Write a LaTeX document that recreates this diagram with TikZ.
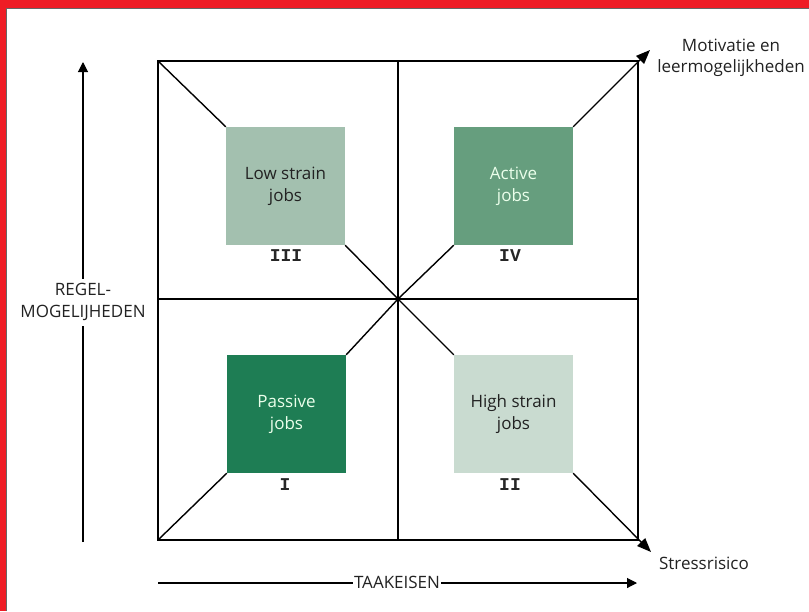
\documentclass[tikz,border=0pt]{standalone}
\usepackage{fontspec}
\setmainfont{Open Sans}
\newfontfamily\romfont{Liberation Mono}
\usetikzlibrary{arrows.meta}
\definecolor{bordred}{HTML}{EE1C25}
\definecolor{lowc}{HTML}{A3C0AF}
\definecolor{actc}{HTML}{669E7E}
\definecolor{pasc}{HTML}{1E7D54}
\definecolor{highc}{HTML}{C9DBD0}
\definecolor{txtdark}{HTML}{222222}
\begin{document}
\begin{tikzpicture}[x=1pt,y=-1pt,
  frame/.style={line width=1.4pt,black},
  jobbox/.style={minimum width=119pt,minimum height=118pt,inner sep=0pt,align=center,font=\fontsize{17}{22}\selectfont},
  darktxt/.style={text=txtdark},
  lighttxt/.style={text=white!92!green},
  roman/.style={font=\romfont\bfseries\fontsize{18}{18}\selectfont,text=black!85},
  axislbl/.style={font=\fontsize{17}{21.5}\selectfont,text=txtdark,align=center},
  vtip/.style={-{Triangle[length=10pt,width=10pt]}},
  dtip/.style={-{Triangle[length=14pt,width=11pt]}}]
\useasboundingbox (0,0) rectangle (809,611);
% border
\fill[bordred] (0,0) rectangle (809,611);
\fill[white] (6,8) rectangle (809,611);
\draw[black!60,line width=1.2pt] (6.6,611) -- (6.6,8.6) -- (809,8.6);
% square corners and center
\coordinate (TL) at (158,61);
\coordinate (TR) at (638,61);
\coordinate (BL) at (158,540);
\coordinate (BR) at (638,540);
\coordinate (C) at (398,299);
\coordinate (TM) at (398,61);
\coordinate (BM) at (398,540);
\coordinate (LM) at (158,299);
\coordinate (RM) at (638,299);
\coordinate (tipTR) at (650,50);
\coordinate (tipBR) at (651,552);
% boxes
\node[jobbox,fill=lowc,darktxt] (low) at (285.5,186) {Low strain\\jobs};
\node[jobbox,fill=actc,lighttxt] (act) at (513.5,186) {Active\\jobs};
\node[jobbox,fill=pasc,lighttxt] (pas) at (286.5,414) {Passive\\jobs};
\node[jobbox,fill=highc,darktxt] (high) at (513.5,414) {High strain\\jobs};
% roman labels
\node[roman] (r3) at (286,256) {III};
\node[roman] (r4) at (510,256) {IV};
\node[roman] (r1) at (285,485) {I};
\node[roman] (r2) at (510,485) {II};
% frame
\draw[frame] (TL) rectangle (BR);
\draw[frame] (TM) -- (BM);
\draw[frame] (LM) -- (RM);
% diagonals
\draw[frame] (TL) -- (low.north west);
\draw[frame] (low.south east) -- (C);
\draw[frame] (C) -- (act.south west);
\draw[frame,dtip] (act.north east) -- (tipTR);
\draw[frame] (BL) -- (pas.south west);
\draw[frame] (pas.north east) -- (C);
\draw[frame] (C) -- (high.north west);
\draw[frame,dtip] (high.south east) -- (tipBR);
% axes
\coordinate (vb) at (83,542);
\coordinate (vt) at (83,62);
\draw[line width=1.1pt,vtip] (vb) -- (vt);
\node[axislbl,fill=white,inner sep=5pt] (regel) at (83,302) {REGEL-\\MOGELIJHEDEN};
\coordinate (hb) at (158,583);
\coordinate (he) at (637,583);
\draw[line width=1.1pt,vtip] (hb) -- (he);
\node[axislbl,fill=white,inner xsep=1.5pt,inner ysep=2pt] (taak) at (397,582) {TAAKEISEN};
\node[axislbl] (motiv) at (731,58) {Motivatie en\\leermogelijkheden};
\node[axislbl] (stress) at (704,563) {Stressrisico};
\end{tikzpicture}
\end{document}
